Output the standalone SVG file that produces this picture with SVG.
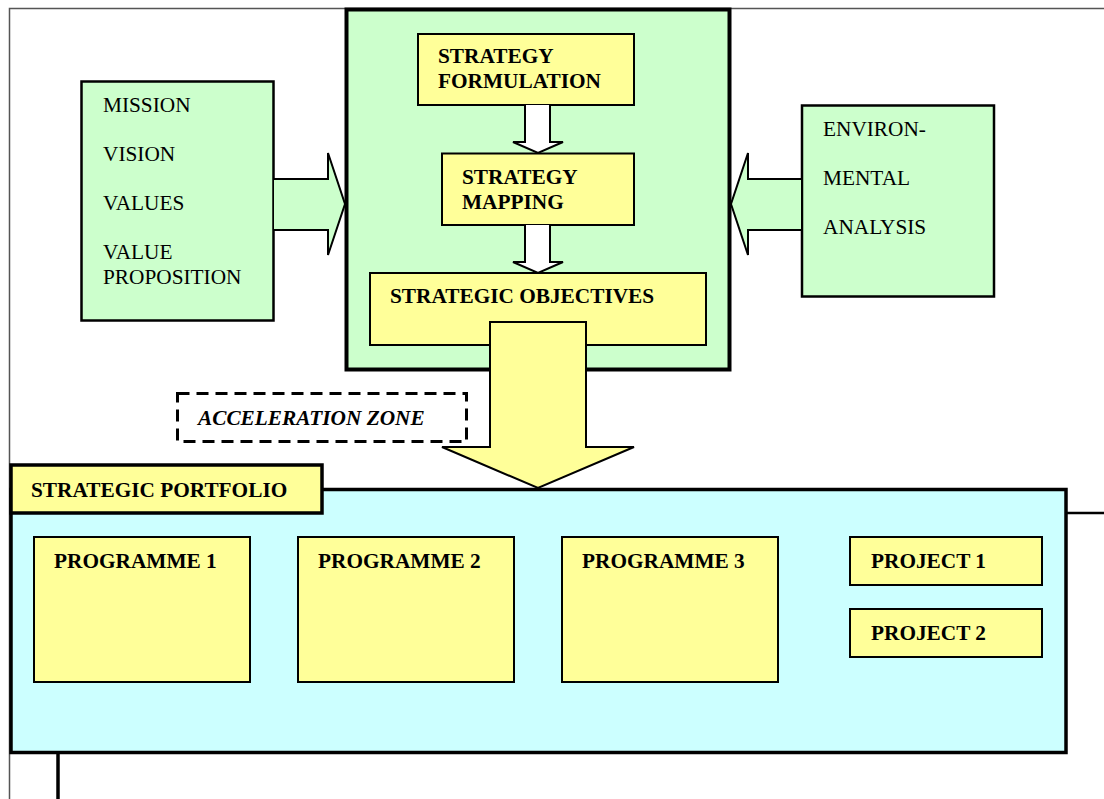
<svg xmlns="http://www.w3.org/2000/svg" width="1104" height="799" viewBox="0 0 1104 799">
  <style>
    .green { fill: #CCFFCC; stroke: #000; }
    .yellow { fill: #FFFF99; stroke: #000; stroke-width: 2; }
    .cyan { fill: #CCFFFF; stroke: #000; stroke-width: 3.5; }
    .hollow { fill: #FFFFFF; stroke: #000; stroke-width: 2; stroke-linejoin: miter; }
    .lbl { font-family: "Liberation Serif", "Times New Roman", serif; font-size: 21.3px; fill: #000; }
    .b { font-weight: bold; }
    .it { font-style: italic; }
  </style>
  <rect width="1104" height="799" fill="#FFFFFF"/>

  <!-- page frame -->
  <g id="frame" fill="none">
    <path d="M9.5 799 V8.5 H1104" stroke="#555" stroke-width="1.5"/>
  </g>

  <!-- strategy core -->
  <g id="strategy-core">
    <rect x="346.5" y="9.5" width="383" height="360" class="green" stroke-width="4"/>
  </g>

  <g id="mission">
    <rect x="81.5" y="81.5" width="192" height="239" class="green" stroke-width="2.5"/>
    <text class="lbl" x="103" y="112">MISSION</text>
    <text class="lbl" x="103" y="161">VISION</text>
    <text class="lbl" x="103" y="210">VALUES</text>
    <text class="lbl" x="103" y="259">VALUE</text>
    <text class="lbl" x="103" y="284">PROPOSITION</text>
  </g>

  <g id="environment">
    <rect x="802" y="105.5" width="192" height="191" class="green" stroke-width="2.5"/>
    <text class="lbl" x="823" y="136">ENVIRON-</text>
    <text class="lbl" x="823" y="185">MENTAL</text>
    <text class="lbl" x="823" y="234">ANALYSIS</text>
  </g>

  <g id="strategy-formulation">
    <rect x="418" y="34" width="216" height="71" class="yellow"/>
    <text class="lbl b" x="438" y="63">STRATEGY</text>
    <text class="lbl b" x="438" y="88">FORMULATION</text>
  </g>

  <g id="strategy-mapping">
    <rect x="442" y="153.5" width="192" height="71.5" class="yellow"/>
    <text class="lbl b" x="462" y="184">STRATEGY</text>
    <text class="lbl b" x="462" y="209">MAPPING</text>
  </g>

  <g id="strategic-objectives">
    <rect x="370" y="273" width="336" height="72" class="yellow"/>
    <text class="lbl b" x="390" y="303">STRATEGIC OBJECTIVES</text>
  </g>

  <g id="acceleration-zone">
    <rect x="177.5" y="393.5" width="289" height="48" fill="none" stroke="#000" stroke-width="3" stroke-dasharray="12 7"/>
    <text class="lbl b it" x="198" y="425">ACCELERATION ZONE</text>
  </g>

  <!-- connectors: block arrows -->
  <g id="connectors">
    <path class="green" stroke-width="2" d="M274 179 H328 V153 L345 204 L328 255 V230 H274"/>
    <path class="green" stroke-width="2" d="M801 179 H748 V153 L731 204 L748 255 V230 H801"/>
    <path class="hollow" d="M525 105 V142 H513 L538 153 L563 142 H550 V105"/>
    <path class="hollow" d="M525 225 V262 H513 L538 273 L563 262 H550 V225"/>
    <path fill="#FFFF99" stroke="#000" stroke-width="2" d="M490 322 H586 V447 H634 L538 488 L442 447 H490 Z"/>
  </g>

  <g id="strategic-portfolio">
    <path d="M1066 513 H1104" stroke="#000" stroke-width="2.5"/>
    <path d="M58 752 V799" stroke="#000" stroke-width="3.5"/>
    <rect x="11" y="489.5" width="1055" height="263" class="cyan"/>
    <rect x="11" y="465" width="311" height="48" fill="#FFFF99" stroke="#000" stroke-width="3.5"/>
    <text class="lbl b" x="31" y="497">STRATEGIC PORTFOLIO</text>
  </g>

  <g id="programme-1">
    <rect x="34" y="537" width="216" height="145" class="yellow"/>
    <text class="lbl b" x="54" y="568">PROGRAMME 1</text>
  </g>
  <g id="programme-2">
    <rect x="298" y="537" width="216" height="145" class="yellow"/>
    <text class="lbl b" x="318" y="568">PROGRAMME 2</text>
  </g>
  <g id="programme-3">
    <rect x="562" y="537" width="216" height="145" class="yellow"/>
    <text class="lbl b" x="582" y="568">PROGRAMME 3</text>
  </g>
  <g id="project-1">
    <rect x="850" y="537" width="192" height="48" class="yellow"/>
    <text class="lbl b" x="871" y="568">PROJECT 1</text>
  </g>
  <g id="project-2">
    <rect x="850" y="609" width="192" height="48" class="yellow"/>
    <text class="lbl b" x="871" y="640">PROJECT 2</text>
  </g>
</svg>
